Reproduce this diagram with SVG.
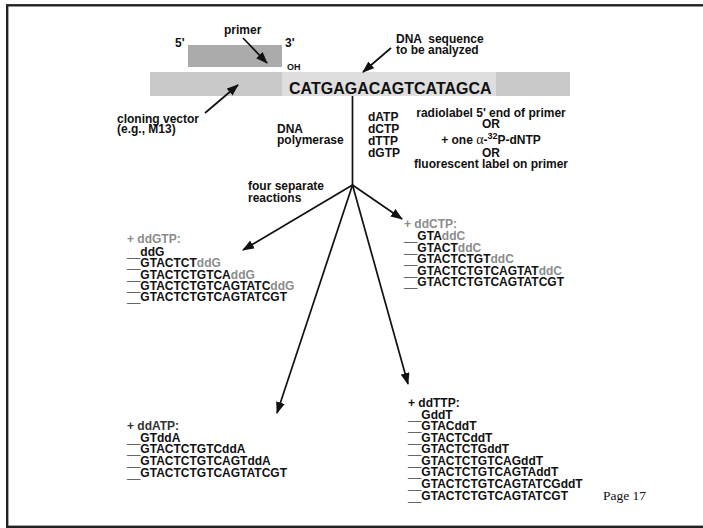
<svg xmlns="http://www.w3.org/2000/svg" width="703" height="528" viewBox="0 0 703 528">
<style>
text{font-family:"Liberation Sans",Arial,Helvetica,sans-serif;font-weight:bold;font-size:12px;fill:#111}
.seq{font-size:16px}
.small{font-size:9px}
.g{fill:#8c8c8c}
.u{fill:#555;font-weight:normal}
.c{text-anchor:middle}
.serif{font-family:"Liberation Serif","Times New Roman",serif;font-weight:normal}
.ln{stroke:#111;stroke-width:1.7;fill:none}
.arr{marker-end:url(#ah)}
</style>
<defs>
<marker id="ah" markerUnits="userSpaceOnUse" markerWidth="12" markerHeight="9" refX="11" refY="4.5" orient="auto">
<path d="M0,0 L12,4.5 L0,9 z" fill="#111"/>
</marker>
</defs>
<rect x="0" y="0" width="703" height="528" fill="#fff"/>
<rect x="7.2" y="5.3" width="700" height="521.5" fill="none" stroke="#222" stroke-width="2.4"/>

<g id="vector-bar">
<rect x="150" y="72" width="420" height="24" fill="#c9c9c9"/>
<rect x="282" y="72" width="214" height="24" fill="#dedede"/>
<text class="seq" x="289" y="94">CATGAGACAGTCATAGCA</text>
</g>
<g id="primer-box">
<rect x="188" y="45" width="94" height="22" fill="#ababab"/>
<text x="175" y="47">5'</text>
<text x="285" y="47">3'</text>
<text class="small" x="287" y="70">OH</text>
</g>
<g id="primer-label"><text x="224" y="34">primer</text></g>
<g id="dna-seq-label">
<text x="396" y="43" xml:space="preserve">DNA  sequence</text>
<text x="396" y="54">to be analyzed</text>
</g>
<g id="cloning-vector-label">
<text x="117" y="123">cloning vector</text>
<text x="117" y="133">(e.g., M13)</text>
</g>
<g id="polymerase-label">
<text x="277" y="133">DNA</text>
<text x="277" y="144">polymerase</text>
</g>
<g id="dntps">
<text x="368" y="121">dATP</text>
<text x="368" y="133">dCTP</text>
<text x="368" y="145">dTTP</text>
<text x="368" y="157">dGTP</text>
</g>
<g id="label-options">
<text class="c" x="491" y="117">radiolabel 5' end of primer</text>
<text class="c" x="491" y="128">OR</text>
<text class="c" x="491" y="144">+ one <tspan class="serif" font-size="14">α</tspan>-<tspan font-size="9" dy="-5">32</tspan><tspan dy="5">P-dNTP</tspan></text>
<text class="c" x="491" y="156.5">OR</text>
<text class="c" x="491" y="168">fluorescent label on primer</text>
</g>
<g id="reactions-label">
<text x="248" y="190">four separate</text>
<text x="248" y="202">reactions</text>
</g>

<g id="connectors">
<line class="ln arr" x1="243" y1="38" x2="267" y2="63"/>
<line class="ln arr" x1="391" y1="48" x2="363" y2="72"/>
<line class="ln arr" x1="205" y1="113" x2="238" y2="85"/>
<line class="ln" x1="352.5" y1="96" x2="352.5" y2="185"/>
<line class="ln arr" x1="352.5" y1="185" x2="243" y2="250"/>
<line class="ln arr" x1="352.5" y1="185" x2="402" y2="219"/>
<line class="ln arr" x1="352.5" y1="185" x2="277" y2="413"/>
<line class="ln arr" x1="352.5" y1="185" x2="408" y2="384"/>
</g>

<g id="ddGTP">
<text class="g" x="127" y="243">+ ddGTP:</text>
<text x="127" y="256"><tspan class="u">__</tspan>ddG</text>
<text x="127" y="267.3"><tspan class="u">__</tspan>GTACTCT<tspan class="g">ddG</tspan></text>
<text x="127" y="278.6"><tspan class="u">__</tspan>GTACTCTGTCA<tspan class="g">ddG</tspan></text>
<text x="127" y="290"><tspan class="u">__</tspan>GTACTCTGTCAGTATC<tspan class="g">ddG</tspan></text>
<text x="127" y="301.3"><tspan class="u">__</tspan>GTACTCTGTCAGTATCGT</text>
</g>
<g id="ddCTP">
<text class="g" x="404" y="228">+ ddCTP:</text>
<text x="404" y="240"><tspan class="u">__</tspan>GTA<tspan class="g">ddC</tspan></text>
<text x="404" y="251.6"><tspan class="u">__</tspan>GTACT<tspan class="g">ddC</tspan></text>
<text x="404" y="263.2"><tspan class="u">__</tspan>GTACTCTGT<tspan class="g">ddC</tspan></text>
<text x="404" y="274.8"><tspan class="u">__</tspan>GTACTCTGTCAGTAT<tspan class="g">ddC</tspan></text>
<text x="404" y="286.4"><tspan class="u">__</tspan>GTACTCTGTCAGTATCGT</text>
</g>
<g id="ddATP">
<text x="127" y="429.5" fill="#333" style="fill:#333">+ ddATP:</text>
<text x="127" y="441.5"><tspan class="u">__</tspan>GTddA</text>
<text x="127" y="453"><tspan class="u">__</tspan>GTACTCTGTCddA</text>
<text x="127" y="464.8"><tspan class="u">__</tspan>GTACTCTGTCAGTddA</text>
<text x="127" y="476.5"><tspan class="u">__</tspan>GTACTCTGTCAGTATCGT</text>
</g>
<g id="ddTTP">
<text x="408" y="407">+ ddTTP:</text>
<text x="408" y="418.5"><tspan class="u">__</tspan>GddT</text>
<text x="408" y="430"><tspan class="u">__</tspan>GTACddT</text>
<text x="408" y="441.6"><tspan class="u">__</tspan>GTACTCddT</text>
<text x="408" y="453.2"><tspan class="u">__</tspan>GTACTCTGddT</text>
<text x="408" y="464.8"><tspan class="u">__</tspan>GTACTCTGTCAGddT</text>
<text x="408" y="476.4"><tspan class="u">__</tspan>GTACTCTGTCAGTAddT</text>
<text x="408" y="488"><tspan class="u">__</tspan>GTACTCTGTCAGTATCGddT</text>
<text x="408" y="499.6"><tspan class="u">__</tspan>GTACTCTGTCAGTATCGT</text>
</g>
<g id="page-number">
<text class="serif" x="603" y="500" font-size="13.5" style="font-size:13.5px;fill:#111">Page 17</text>
</g>
</svg>
